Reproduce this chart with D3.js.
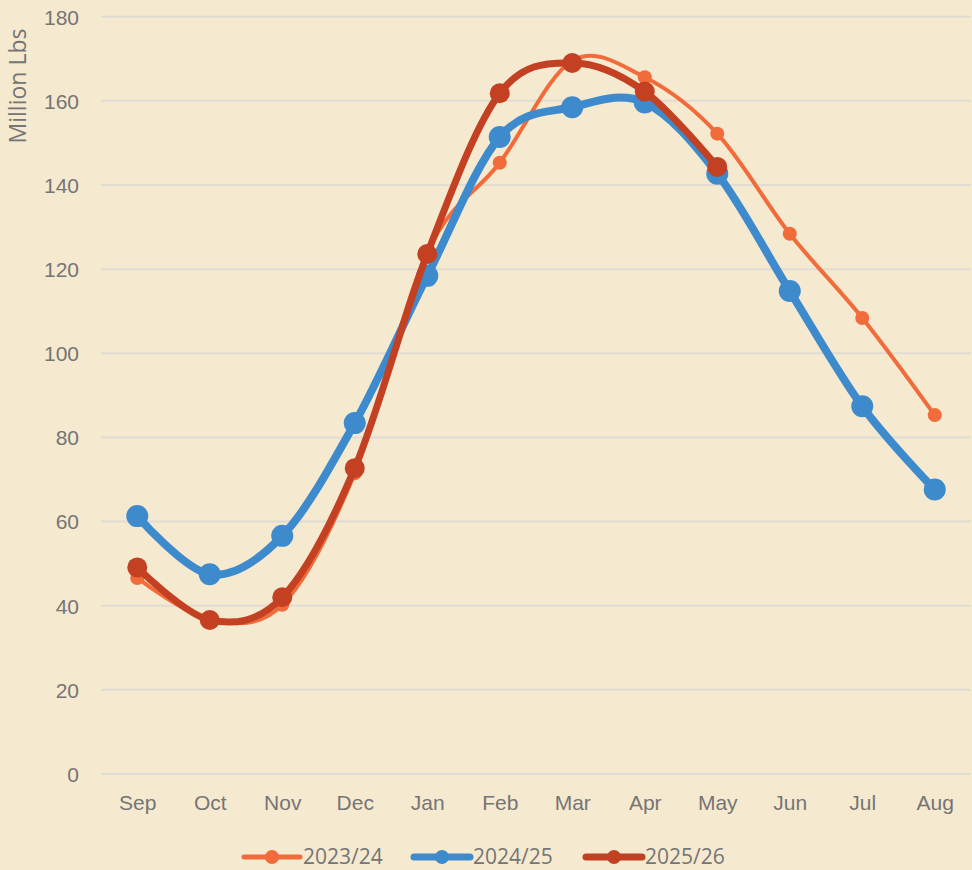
<!DOCTYPE html>
<html lang="en">
<head>
  <meta charset="UTF-8">
  <title>Million Lbs by month</title>
  <script src="https://d3js.org/d3.v7.min.js"></script>
  <style>
    body { margin: 0; background: #f5e9cf; }
    svg { display: block; font-family: "Open Sans", "Noto Sans", sans-serif; }
  </style>
</head>
<body>
<div id="chart"></div>
<script>
// chart values
const months = ["Sep", "Oct", "Nov", "Dec", "Jan", "Feb", "Mar", "Apr", "May", "Jun", "Jul", "Aug"];
const yTicks = [0, 20, 40, 60, 80, 100, 120, 140, 160, 180];
const s2023 = [46.6, 36.8, 40.2, 71.5, 124.0, 145.3, 169.5, 165.6, 152.2, 128.4, 108.4, 85.3];
const s2024 = [61.3, 47.5, 56.6, 83.4, 118.4, 151.4, 158.5, 159.6, 142.7, 114.8, 87.4, 67.6];
const s2025 = [49.1, 36.6, 42.0, 72.7, 123.6, 161.8, 169.0, 162.2, 144.3];

const series = [
  { name: "2023/24", values: s2023, color: "#f26b3b", width: 4, r: 7 },
  { name: "2024/25", values: s2024, color: "#3d8acd", width: 8, r: 11 },
  { name: "2025/26", values: s2025, color: "#c34122", width: 7, r: 10 }
];

const W = 972, H = 870;
const svg = d3.select("#chart").append("svg")
  .attr("width", W)
  .attr("height", H);

svg.append("rect").attr("width", W).attr("height", H).attr("fill", "#f5e9cf");

// scales
const x = d3.scalePoint()
  .domain(months)
  .range([101, 971])
  .padding(0.5);

const y = d3.scaleLinear()
  .domain([0, 180])
  .range([774, 16.7]);

// gridlines
svg.append("g")
  .selectAll("line")
  .data(yTicks)
  .join("line")
  .attr("x1", 101)
  .attr("x2", 971)
  .attr("y1", d => y(d))
  .attr("y2", d => y(d))
  .attr("stroke", "#e0dcd3")
  .attr("stroke-width", 2);

// y axis
const yAxis = svg.append("g")
  .attr("transform", "translate(79,0)")
  .call(d3.axisLeft(y).tickValues(yTicks).tickSize(0).tickPadding(0));
yAxis.select(".domain").remove();
yAxis.selectAll("text")
  .attr("fill", "#757575")
  .attr("dy", "0.35em")
  .style("font-size", "21px");

// x axis
const xAxis = svg.append("g")
  .attr("transform", "translate(0,803)")
  .call(d3.axisBottom(x).tickSize(0).tickPadding(0));
xAxis.select(".domain").remove();
xAxis.selectAll("text")
  .attr("fill", "#757575")
  .attr("dy", "0.35em")
  .style("font-size", "21px");

// y axis title
svg.append("text")
  .attr("transform", "translate(18,86) rotate(-90)")
  .attr("text-anchor", "middle")
  .attr("dy", "0.35em")
  .attr("fill", "#757575")
  .style("font-size", "23px")
  .text("Million Lbs");

// lines
const line = d3.line()
  .x((d, i) => x(months[i]))
  .y(d => y(d))
  .curve(d3.curveCardinal.tension(0));

series.forEach(s => {
  const g = svg.append("g");
  g.append("path")
    .datum(s.values)
    .attr("d", line)
    .attr("fill", "none")
    .attr("stroke", s.color)
    .attr("stroke-width", s.width)
    .attr("stroke-linecap", "round")
    .attr("stroke-linejoin", "round");
  g.selectAll("circle")
    .data(s.values)
    .join("circle")
    .attr("cx", (d, i) => x(months[i]))
    .attr("cy", d => y(d))
    .attr("r", s.r)
    .attr("fill", s.color);
});

// legend
const legendX = [244, 414, 586];
const legend = svg.append("g");
series.forEach((s, i) => {
  const lg = legend.append("g").attr("transform", `translate(${legendX[i]},857)`);
  lg.append("line")
    .attr("x1", 0).attr("x2", 56)
    .attr("stroke", s.color)
    .attr("stroke-width", i === 0 ? 5 : 7)
    .attr("stroke-linecap", "round");
  lg.append("circle")
    .attr("cx", 28)
    .attr("r", 7)
    .attr("fill", s.color);
  lg.append("text")
    .attr("x", 59)
    .attr("dy", "0.35em")
    .attr("fill", "#757575")
    .style("font-size", "21px")
    .text(s.name);
});
</script>
</body>
</html>
